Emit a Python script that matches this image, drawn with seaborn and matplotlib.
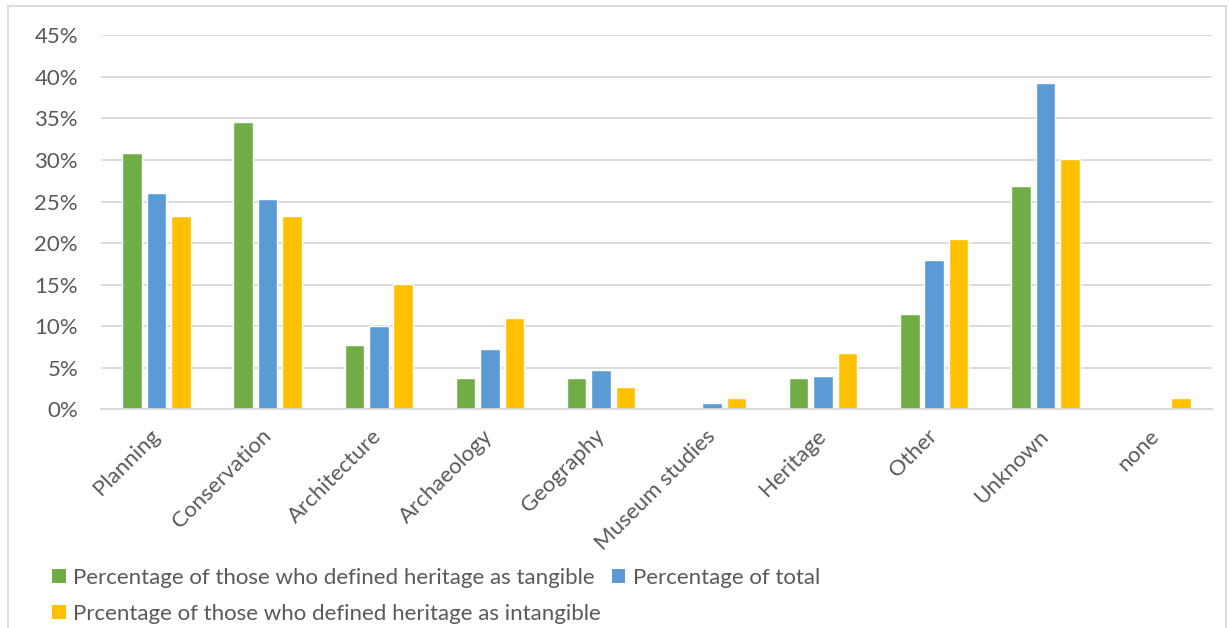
import matplotlib
matplotlib.use("Agg")
import matplotlib.pyplot as plt
from matplotlib.patches import Patch, Rectangle
from matplotlib.ticker import PercentFormatter, MultipleLocator
import pandas as pd
import seaborn as sns

# Disciplines of respondents
categories = ["Planning", "Conservation", "Architecture", "Archaeology", "Geography",
              "Museum studies", "Heritage", "Other", "Unknown", "none"]

# Percentages per discipline for each group
tangible = [30.8, 34.6, 7.7, 3.8, 3.8, 0.0, 3.8, 11.5, 26.9, 0.0]
total = [26.0, 25.3, 10.0, 7.3, 4.7, 0.7, 4.0, 18.0, 39.3, 0.0]
intangible = [23.3, 23.3, 15.1, 11.0, 2.7, 1.4, 6.8, 20.5, 30.1, 1.4]

series_names = ["Percentage of those who defined heritage as tangible",
                "Percentage of total",
                "Prcentage of those who defined heritage as intangible"]
colors = ["#70AD47", "#5B9BD5", "#FFC000"]

df = pd.DataFrame({
    "category": categories * 3,
    "series": [series_names[0]] * 10 + [series_names[1]] * 10 + [series_names[2]] * 10,
    "value": tangible + total + intangible,
})

sns.set_theme(style="white")
plt.rcParams["font.family"] = ["Lato", "DejaVu Sans"]
text_color = "#595959"
grid_color = "#D9D9D9"
fs = 16

W, H = 1229, 628
fig = plt.figure(figsize=(W / 100, H / 100), dpi=100)
ax = fig.add_axes([101 / W, 1 - 409.3 / H, (1212 - 101) / W, (409.3 - 35.3) / H])

sns.barplot(data=df, x="category", y="value", hue="series", order=categories,
            hue_order=series_names, palette=colors, width=0.66, gap=0.2,
            saturation=1, ax=ax, legend=False)

ax.set_xlim(-0.5, len(categories) - 0.5)
ax.set_ylim(0, 45)
ax.yaxis.set_major_locator(MultipleLocator(5))
ax.yaxis.set_major_formatter(PercentFormatter(decimals=0))
ax.set_xlabel("")
ax.set_ylabel("")

ax.grid(axis="y", color=grid_color, linewidth=1.3)
ax.set_axisbelow(True)
for side in ["left", "right", "top"]:
    ax.spines[side].set_visible(False)
ax.spines["bottom"].set_color(grid_color)
ax.spines["bottom"].set_linewidth(1.3)

ax.tick_params(axis="y", length=0, pad=16.5, labelsize=fs, labelcolor=text_color)
ax.tick_params(axis="x", length=0, pad=17, labelsize=fs, labelcolor=text_color)
for lbl in ax.get_xticklabels():
    lbl.set_rotation(45)
    lbl.set_ha("right")
    lbl.set_va("center")
    lbl.set_rotation_mode("anchor")

# Legend: two entries on the first row, one on the second
handles = [Patch(facecolor=c, edgecolor="none") for c in colors]
order = [0, 2, 1]
fig.legend([handles[i] for i in order], [series_names[i] for i in order],
           loc="upper left", bbox_to_anchor=(52.3 / W, 1 - 568 / H), ncol=2,
           frameon=False, fontsize=fs, labelcolor=text_color,
           handlelength=0.6, handleheight=0.6, handletextpad=0.34,
           labelspacing=0.72, columnspacing=0.5, borderpad=0, borderaxespad=0)

# Chart area border
fig.patches.append(Rectangle((7.5 / W, -0.05), (1226 - 7.5) / W, 1.05 - 6 / H,
                             transform=fig.transFigure, fill=False,
                             edgecolor=grid_color, linewidth=1.3))

fig.savefig("out.png", dpi=100, facecolor="white")
